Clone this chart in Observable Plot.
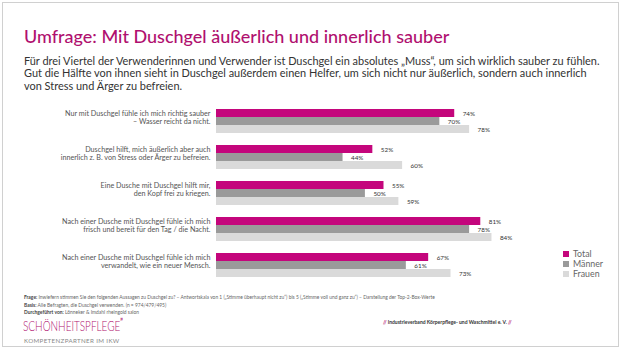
<!DOCTYPE html>
<html>
<head>
<meta charset="utf-8">
<script src="https://cdn.jsdelivr.net/npm/d3@7"></script>
<script src="https://cdn.jsdelivr.net/npm/@observablehq/plot@0.6"></script>
<style>
  html, body { margin: 0; padding: 0; background: #fff; }
  #page { position: relative; width: 623px; height: 350px; overflow: hidden; font-family: Lato, "Open Sans", sans-serif; }
  #frame { position: absolute; left: 2px; top: 2px; width: 615px; height: 343px; border: 1px solid #d0d0d0; }
  .abs { position: absolute; white-space: nowrap; }
  #title { left: 24px; top: 25px; font-size: 18px; color: #b0106f; font-weight: 500; }
  #subtitle { left: 24px; top: 55px; font-size: 10.95px; line-height: 12.4px; color: #333; }
  #chart { position: absolute; left: 0; top: 100px; }
  #legend { left: 563px; top: 249px; font-size: 8.8px; color: #666; line-height: 10px; }
  #legend .sw { display: inline-block; width: 6px; height: 6px; margin-right: 4px; vertical-align: 0px; }
  #notes { left: 24px; top: 294px; font-size: 4.9px; line-height: 7.6px; color: #666; }
  #notes b { color: #444; }
  #brand { left: 23px; top: 316px; font-size: 13.5px; color: #b0106f; font-weight: 300; transform: scaleX(0.74); transform-origin: left center; }
  #brand sup { font-size: 9px; font-weight: 700; }
  #sub-brand { left: 24px; top: 337px; font-size: 6.2px; color: #888; letter-spacing: 0.35px; }
  #ikw { left: 383px; top: 319px; font-size: 5px; color: #333; font-weight: 700; }
  #ikw span { color: #b0106f; }
</style>
</head>
<body>
<div id="page">
  <div id="frame"></div>
  <div id="title" class="abs">Umfrage: Mit Duschgel äußerlich und innerlich sauber</div>
  <div id="subtitle" class="abs">Für drei Viertel der Verwenderinnen und Verwender ist Duschgel ein absolutes „Muss“, um sich wirklich sauber zu fühlen.<br>Gut die Hälfte von ihnen sieht in Duschgel außerdem einen Helfer, um sich nicht nur äußerlich, sondern auch innerlich<br>von Stress und Ärger zu befreien.</div>
  <div id="chart"></div>
  <div id="legend" class="abs"></div>
  <div id="notes" class="abs">
    <div><b>Frage:</b> Inwiefern stimmen Sie den folgenden Aussagen zu Duschgel zu? – Antwortskala von 1 („Stimme überhaupt nicht zu“) bis 5 („Stimme voll und ganz zu“) – Darstellung der Top-2-Box-Werte</div>
    <div><b>Basis:</b> Alle Befragten, die Duschgel verwenden. (n = 974/479/495)</div>
    <div><b>Durchgeführt von:</b> Lönneker &amp; Imdahl rheingold salon</div>
  </div>
  <div id="brand" class="abs">SCHÖNHEITSPFLEGE<sup>”</sup></div>
  <div id="sub-brand" class="abs">KOMPETENZPARTNER IM IKW</div>
  <div id="ikw" class="abs"><span>//</span> Industrieverband Körperpflege- und Waschmittel e. V. <span>//</span></div>
</div>
<script>
const statements = [
  "Nur mit Duschgel fühle ich mich richtig sauber\n– Wasser reicht da nicht.",
  "Duschgel hilft, mich äußerlich aber auch\ninnerlich z. B. von Stress oder Ärger zu befreien.",
  "Eine Dusche mit Duschgel hilft mir,\nden Kopf frei zu kriegen.",
  "Nach einer Dusche mit Duschgel fühle ich mich\nfrisch und bereit für den Tag / die Nacht.",
  "Nach einer Dusche mit Duschgel fühle ich mich\nverwandelt, wie ein neuer Mensch."
];
const seriesNames = ["Total", "Männer", "Frauen"];
const totalValues = [74, 52, 55, 81, 67];
const maennerValues = [70, 44, 50, 78, 61];
const frauenValues = [78, 60, 59, 84, 73];
const seriesColors = ["#c4067c", "#9a9a9a", "#dadada"];

const valuesBySeries = [totalValues, maennerValues, frauenValues];
const data = [];
statements.forEach((s, i) => {
  seriesNames.forEach((name, j) => {
    data.push({ statement: s, series: name, value: valuesBySeries[j][i] });
  });
});

const chart = Plot.plot({
  width: 623,
  height: 185,
  marginTop: 9,
  marginBottom: 8,
  marginLeft: 216,
  marginRight: 72,
  style: { fontFamily: "Lato, 'Open Sans', sans-serif", background: "transparent" },
  x: { domain: [10, 100], axis: null },
  y: { domain: seriesNames, padding: 0, axis: null },
  fy: { domain: statements, paddingInner: 1/3, paddingOuter: 0, label: null },
  color: { domain: seriesNames, range: seriesColors },
  marks: [
    Plot.barX(data, { x: "value", y: "series", fy: "statement", fill: "series", clip: true }),
    Plot.text(data, {
      x: "value", y: "series", fy: "statement",
      text: d => d.value + "%",
      textAnchor: "start", dx: 8, fontSize: 6.3, fill: "#333"
    }),
    Plot.axisFy({
      anchor: "left", tickSize: 0, tickPadding: 6, dy: -4,
      fontSize: 7.2, lineHeight: 1.12, fill: "#555", label: null
    })
  ]
});
document.getElementById("chart").appendChild(chart);

const legend = document.getElementById("legend");
seriesNames.forEach((name, j) => {
  const row = document.createElement("div");
  const sw = document.createElement("span");
  sw.className = "sw";
  sw.style.background = seriesColors[j];
  row.appendChild(sw);
  row.appendChild(document.createTextNode(name));
  legend.appendChild(row);
});
</script>
</body>
</html>
